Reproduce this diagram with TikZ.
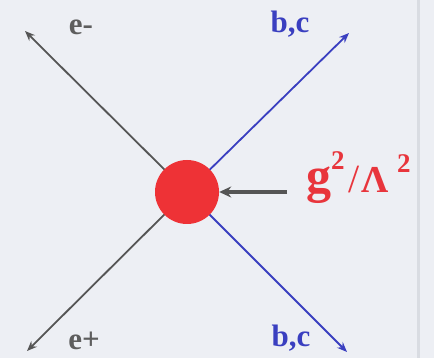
\documentclass[tikz,border=0pt]{standalone}
\usepackage{fontspec}
\setmainfont{Liberation Serif}
\usetikzlibrary{arrows.meta}
\definecolor{bg}{HTML}{EDEFF4}
\definecolor{edge}{HTML}{D9DCE2}
\definecolor{lgray}{HTML}{555555}
\definecolor{tgray}{HTML}{5E5E5E}
\definecolor{lblue}{HTML}{3A3FC0}
\definecolor{dotred}{HTML}{EE3236}
\definecolor{txtred}{HTML}{E8353C}
\tikzset{
  leg/.style={line width=1.8pt, -{Stealth[length=10pt,width=8pt]}},
  lbl/.style={font=\fontsize{31}{31}\selectfont\bfseries, anchor=base, inner sep=0pt},
}
\begin{document}
\begin{tikzpicture}[x=1pt,y=-1pt]
  \fill[bg] (0,0) rectangle (434,358);
  \useasboundingbox (0,0) rectangle (434,358);
  \fill[edge] (417,0) rectangle (420,358);
  \coordinate (ul) at (25,31);
  \coordinate (ur) at (349,33);
  \coordinate (ll) at (27,351);
  \coordinate (lr) at (347,352);
  \coordinate (o) at (187,192);
  \coordinate (src) at (287,192);
  \draw[leg, lgray] (o) -- (ul);
  \draw[leg, lgray] (o) -- (ll);
  \draw[leg, lblue] (o) -- (ur);
  \draw[leg, lblue] (o) -- (lr);
  \node[circle, fill=dotred, minimum size=64pt, inner sep=0pt] (c) at (o) {};
  \draw[lgray, line width=3.2pt, -{Stealth[length=12pt,width=11pt]}] (src) -- (c);
  \node[lbl, text=tgray] (em) at (81,35) {e-};
  \node[lbl, text=tgray] (ep) at (84,349) {e+};
  \node[lbl, text=lblue] (bc1) at (290,33) {b,c};
  \node[lbl, text=lblue] (bc2) at (291,346) {b,c};
  \node[anchor=base west, inner sep=0pt, text=txtred] (g) at (306,193)
    {\bfseries\fontsize{50}{50}\selectfont g\raisebox{23pt}{\fontsize{27}{27}\selectfont 2}\kern4pt{\mdseries\fontsize{40}{40}\selectfont /}\kern2pt\fontsize{38}{38}\selectfont Λ\kern8pt\raisebox{20pt}{\fontsize{27}{27}\selectfont 2}};
\end{tikzpicture}
\end{document}
